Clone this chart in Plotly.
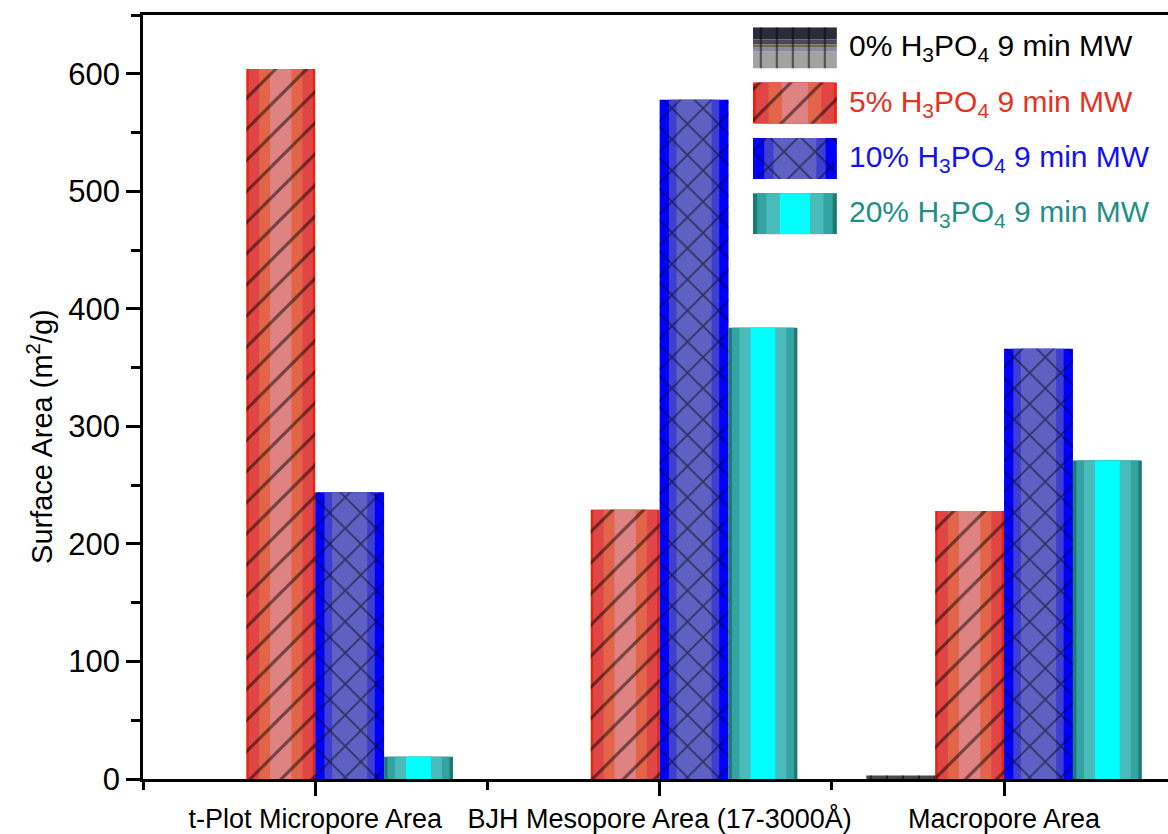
import plotly.graph_objects as go

# ---------------- data ----------------
categories = ["t-Plot Micropore Area", "BJH Mesopore Area (17-3000Å)", "Macropore Area"]
series_names = [
    "0% H<sub>3</sub>PO<sub>4</sub> 9 min MW",
    "5% H<sub>3</sub>PO<sub>4</sub> 9 min MW",
    "10% H<sub>3</sub>PO<sub>4</sub> 9 min MW",
    "20% H<sub>3</sub>PO<sub>4</sub> 9 min MW",
]
val_0 = [0, 0, 3]
val_5 = [604, 229, 228]
val_10 = [244, 578, 366]
val_20 = [19, 384, 271]
y_ticks = [0, 100, 200, 300, 400, 500, 600]

series_values = [val_0, val_5, val_10, val_20]

# ---------------- styles ----------------
FONT = "Arial, Liberation Sans, sans-serif"
text_colors = ["#000000", "#e6321e", "#1212f5", "#1f8f88"]
# (width fraction, colour) layers from outer edge to centre -> banded gradient look
layers = [
    [(1.0, "#4a4a4a")],
    [(1.0, "#e8250c"), (0.93, "#e14646"), (0.63, "#e2654a"), (0.31, "#df8282")],
    [(1.0, "#0000ff"), (0.73, "#3f3fcf"), (0.51, "#5e60c2")],
    [(1.0, "#1f7a72"), (0.90, "#33a3a3"), (0.68, "#4bbaba"), (0.36, "#00ffff")],
]
patterns = [("|", 16), ("/", 22), ("x", 22), ("", 22)]
legend_0_bands = [(0.00, 0.30, "#2b2b3d"), (0.30, 0.42, "#4a4a58"), (0.42, 0.50, "#6f6d4f"),
                  (0.50, 0.60, "#8a8aa0"), (0.60, 1.00, "#a3a3a3")]
SOLID = 0.14

bar_w = 0.2
xidx = list(range(len(categories)))
n = len(series_values)

fig = go.Figure()

for s, vals in enumerate(series_values):
    centre = (s - (n - 1) / 2) * bar_w
    for f, col in layers[s]:
        fig.add_trace(go.Bar(
            x=xidx, y=vals, width=bar_w * f, offset=centre - bar_w * f / 2,
            marker=dict(color=col, line=dict(width=0)),
            showlegend=False, hoverinfo="skip"))
    shp, size = patterns[s]
    if shp:
        fig.add_trace(go.Bar(
            x=xidx, y=vals, width=bar_w, offset=centre - bar_w / 2,
            marker=dict(color="rgba(0,0,0,0)", line=dict(width=0),
                        pattern=dict(shape=shp, fgcolor="#000000", bgcolor="rgba(0,0,0,0)",
                                     size=size, solidity=SOLID, fillmode="overlay")),
            showlegend=False, hoverinfo="skip"))

# ---------------- legend drawn on a helper axis ----------------
h = 0.74
for k in range(n):
    if k == 0:
        for a, b, col in legend_0_bands:
            fig.add_trace(go.Bar(x=[0.5], y=[h * (b - a)], base=[k - h / 2 + h * a], width=[1.0],
                                 marker=dict(color=col, line=dict(width=0)),
                                 xaxis="x2", yaxis="y2", showlegend=False, hoverinfo="skip"))
    else:
        for f, col in layers[k]:
            fig.add_trace(go.Bar(x=[0.5], y=[h], base=[k - h / 2], width=[f],
                                 marker=dict(color=col, line=dict(width=0)),
                                 xaxis="x2", yaxis="y2", showlegend=False, hoverinfo="skip"))
    shp, size = patterns[k]
    if shp:
        fig.add_trace(go.Bar(x=[0.5], y=[h], base=[k - h / 2], width=[1.0],
                             marker=dict(color="rgba(0,0,0,0)", line=dict(width=0),
                                         pattern=dict(shape=shp, fgcolor="#000000",
                                                      bgcolor="rgba(0,0,0,0)", size=size,
                                                      solidity=SOLID, fillmode="overlay")),
                             xaxis="x2", yaxis="y2", showlegend=False, hoverinfo="skip"))
    fig.add_annotation(x=0.687, xref="paper", y=k, yref="y2", text=series_names[k],
                       showarrow=False, xanchor="left", yanchor="middle",
                       font=dict(family=FONT, size=30, color=text_colors[k]))

# y-axis title (placed as in the reference, slightly below the axis centre)
fig.add_annotation(x=-0.1005, xref="paper", y=0.449, yref="paper",
                   text="Surface Area (m<sup>2</sup>/g)", textangle=-90, showarrow=False,
                   xanchor="center", yanchor="middle",
                   font=dict(family=FONT, size=29, color="black"))

fig.update_layout(
    width=1168, height=834,
    margin=dict(l=143, r=0, t=15, b=53),
    paper_bgcolor="white", plot_bgcolor="white",
    barmode="overlay",
    font=dict(family=FONT, color="black"),
    xaxis=dict(
        range=[-0.5, 2.476], tickmode="array", tickvals=xidx, ticktext=categories,
        showline=True, linecolor="black", linewidth=2.5, mirror=True,
        ticks="outside", ticklen=14, tickwidth=2.5, tickcolor="black",
        minor=dict(tickmode="linear", tick0=0.5, dtick=1, ticks="outside", ticklen=8,
                   tickwidth=2.5, tickcolor="black"),
        showgrid=False, zeroline=False,
        tickfont=dict(family=FONT, size=27, color="black"),
    ),
    yaxis=dict(
        range=[0, 650], tickmode="array", tickvals=y_ticks,
        showline=True, linecolor="black", linewidth=2.5, mirror=False,
        ticks="outside", ticklen=14, tickwidth=2.5, tickcolor="black",
        minor=dict(tickmode="linear", tick0=0, dtick=50, ticks="outside", ticklen=9,
                   tickwidth=2.5, tickcolor="black"),
        showgrid=False, zeroline=False,
        tickfont=dict(family=FONT, size=31, color="black"),
    ),
    xaxis2=dict(domain=[0.595, 0.677], range=[0, 1], anchor="y2", visible=False, fixedrange=True),
    yaxis2=dict(domain=[0.713, 0.984], range=[n - 1 + 0.37, -0.37], anchor="x2",
                visible=False, fixedrange=True),
)

fig.write_html("out.html")
